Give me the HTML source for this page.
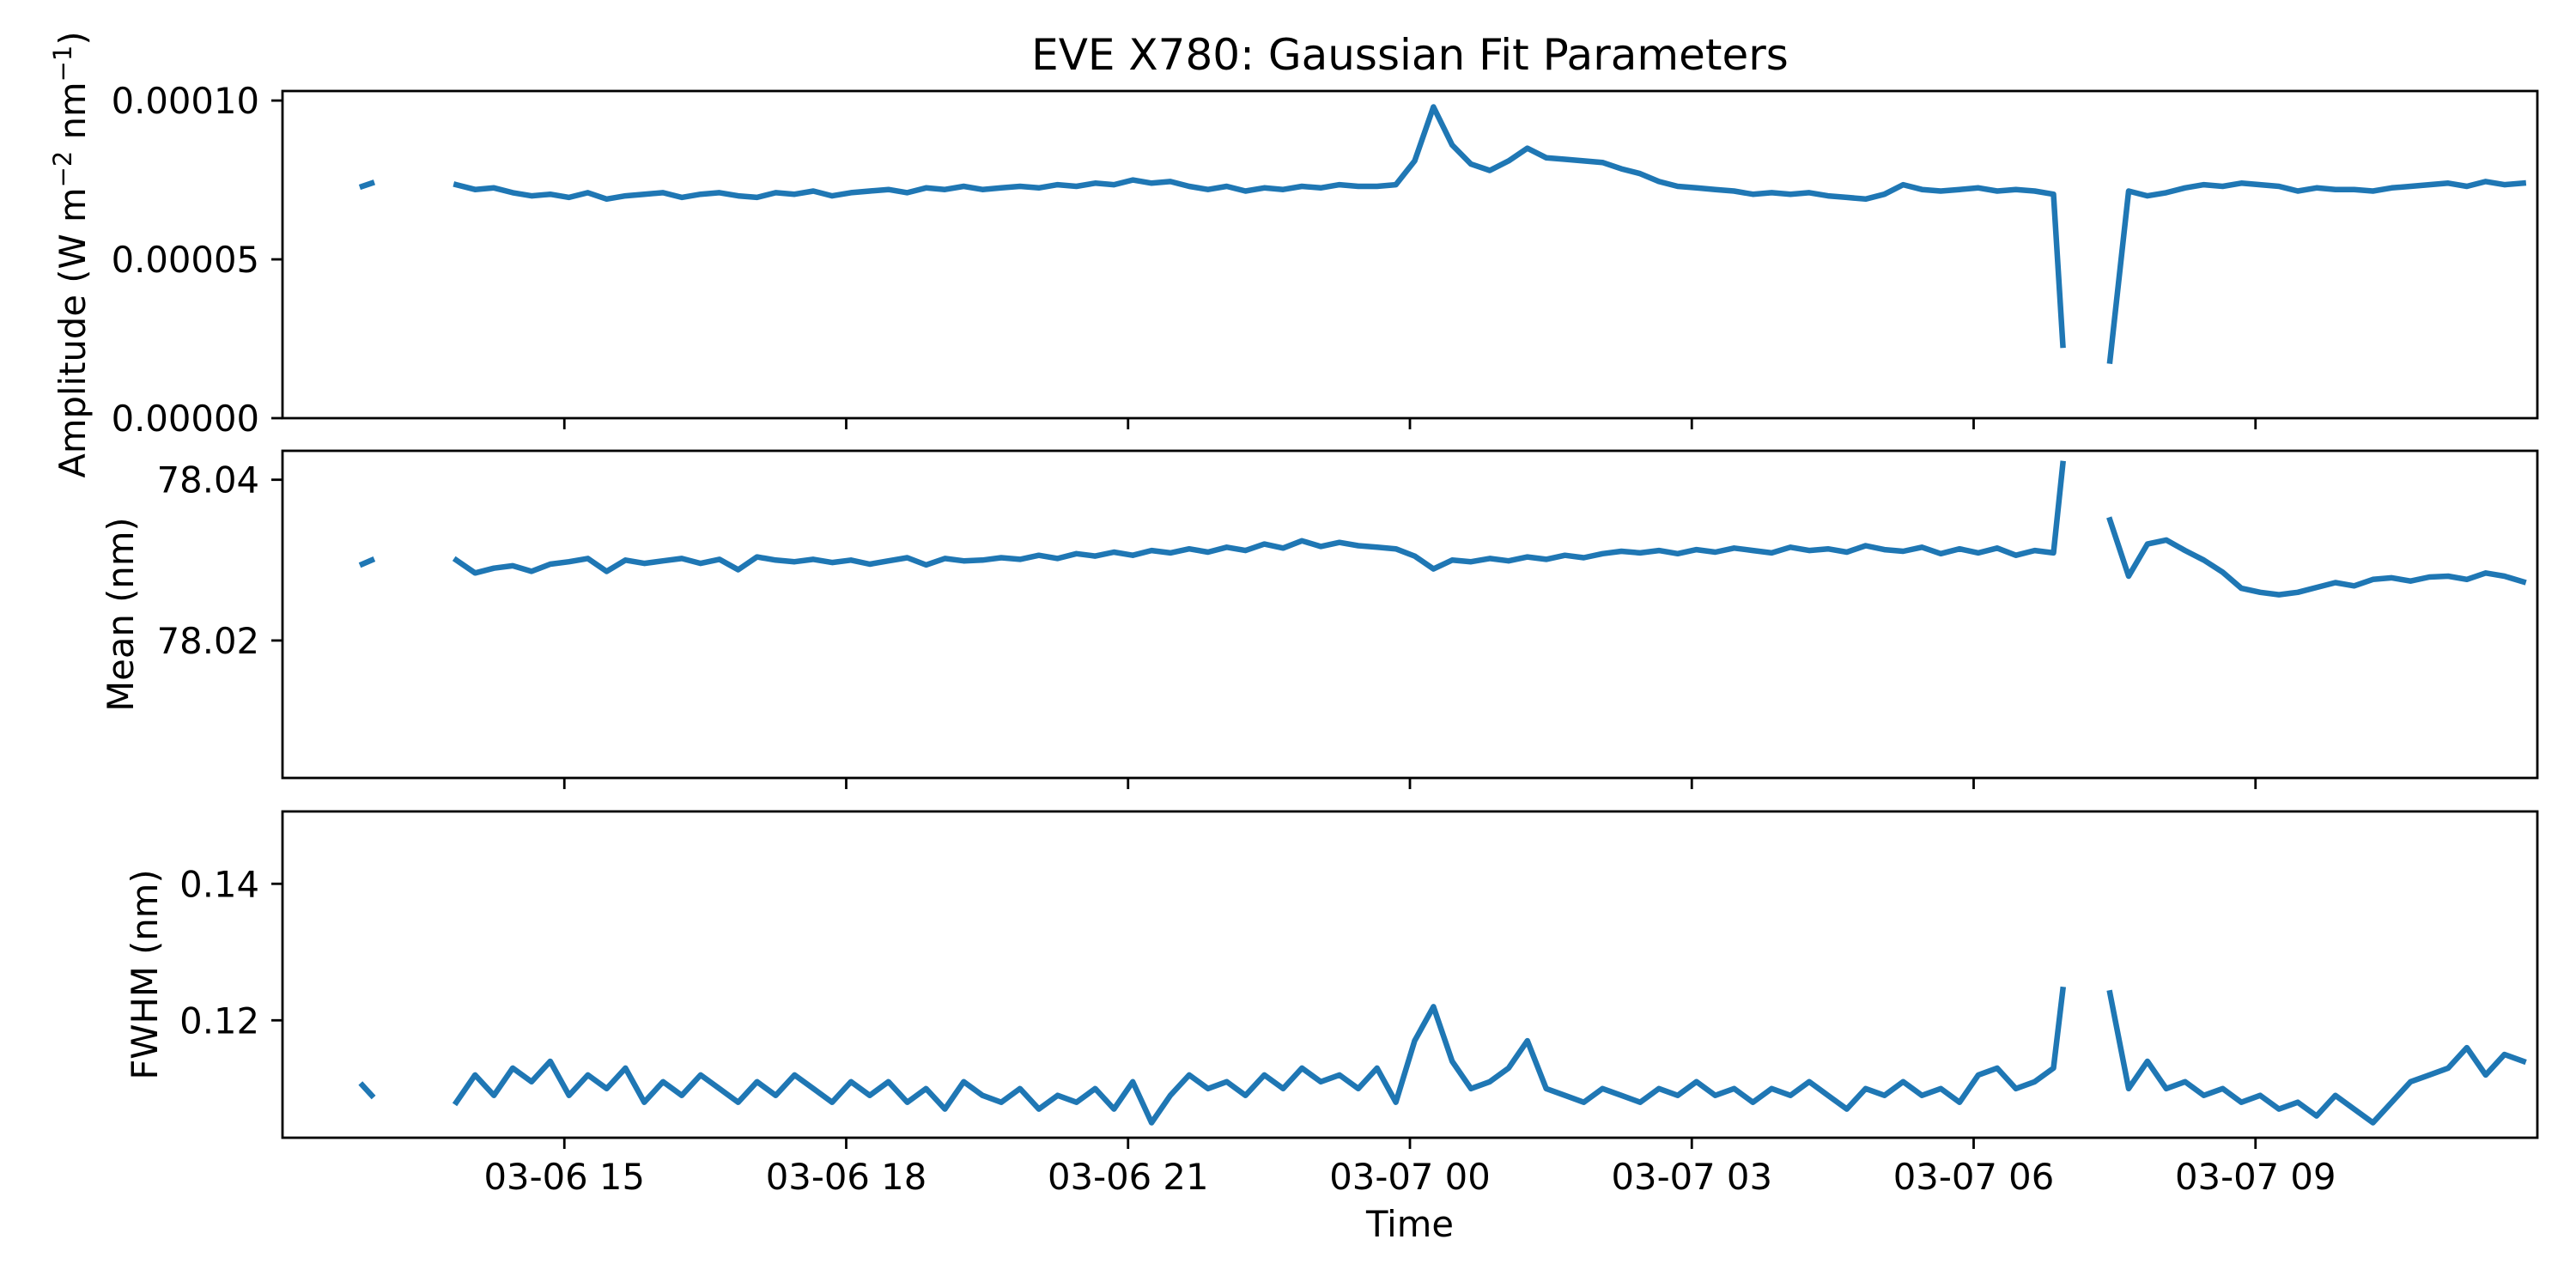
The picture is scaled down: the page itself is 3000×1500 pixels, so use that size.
<!DOCTYPE html>
<html><head><meta charset="utf-8">
<style>
html,body{margin:0;padding:0;background:#fff;}
svg{display:block;font-family:"DejaVu Sans","Liberation Sans",sans-serif;}
</style></head>
<body>
<svg id="fig" width="3000" height="1500" viewBox="0 0 3000 1500" xmlns="http://www.w3.org/2000/svg">
<rect width="3000" height="1500" fill="#fff"/>
<text x="1642" y="81" font-size="50" text-anchor="middle">EVE X780: Gaussian Fit Parameters</text>
<g id="plots"></g>
</svg>
<script>
// x: hours since 03-06 12:00
const xTickHours = [3, 6, 9, 12, 15, 18, 21];
const xTickLabels = ["03-06 15", "03-06 18", "03-06 21", "03-07 00", "03-07 03", "03-07 06", "03-07 09"];
const seg0Times = [0.85, 0.95];
const seg1Start = 1.85, seg1Step = 0.2;
const seg1EndTime = 18.95;
const seg2Start = 19.45, seg2Step = 0.2;

// Amplitude (x1e-5 W m^-2 nm^-1)
const ampSeg0 = [7.3, 7.4];
const ampSeg1 = [7.35,7.2,7.25,7.1,7.0,7.05,6.95,7.1,6.9,7.0,7.05,
 7.1,6.95,7.05,7.1,7.0,6.95,7.1,7.05,7.15,7.0,7.1,
 7.15,7.2,7.1,7.25,7.2,7.3,7.2,7.25,7.3,7.25,7.35,
 7.3,7.4,7.35,7.5,7.4,7.45,7.3,7.2,7.3,7.15,7.25,
 7.2,7.3,7.25,7.35,7.3,7.3,7.35,8.1,9.8,8.6,8.0,
 7.8,8.1,8.5,8.2,8.15,8.1,8.05,7.85,7.7,7.45,7.3,
 7.25,7.2,7.15,7.05,7.1,7.05,7.1,7.0,6.95,6.9,7.05,
 7.35,7.2,7.15,7.2,7.25,7.15,7.2,7.15,7.05];
const ampSeg1End = 2.3;
const ampSeg2 = [1.8,7.15,7.0,7.1,7.25,7.35,7.3,7.4,7.35,7.3,7.15,7.25,7.2,7.2,7.15,7.25,7.3,7.35,7.4,7.3,7.45,7.35,7.4];

// Mean (offset from 78.000 nm, x1e-3)
const meanSeg0 = [29.5, 30.0];
const meanSeg1 = [30.0,28.4,29.0,29.3,28.6,29.5,29.8,30.2,28.6,30.0,29.6,
 29.9,30.2,29.6,30.1,28.8,30.4,30.0,29.8,30.1,29.7,30.0,
 29.5,29.9,30.3,29.4,30.2,29.9,30.0,30.3,30.1,30.6,30.2,
 30.8,30.5,31.0,30.6,31.2,30.9,31.4,31.0,31.6,31.2,32.0,
 31.5,32.4,31.7,32.2,31.8,31.6,31.4,30.5,28.9,30.0,29.8,
 30.2,29.9,30.4,30.1,30.6,30.3,30.8,31.1,30.9,31.2,30.8,
 31.3,31.0,31.5,31.2,30.9,31.6,31.2,31.4,31.0,31.8,31.3,
 31.1,31.6,30.8,31.4,30.9,31.5,30.6,31.2,30.9];
const meanSeg1End = 42.0;
const meanSeg2 = [35.0,28.0,32.0,32.5,31.2,30.0,28.5,26.5,26.0,25.7,26.0,26.6,27.2,26.8,27.6,27.8,27.4,27.9,28.0,27.6,28.4,28.0,27.3];

// FWHM (x1e-3 nm)
const fwhmSeg0 = [110.5, 109.0];
const fwhmSeg1 = [108,112,109,113,111,114,109,112,110,113,108,
 111,109,112,110,108,111,109,112,110,108,111,
 109,111,108,110,107,111,109,108,110,107,109,
 108,110,107,111,105,109,112,110,111,109,112,
 110,113,111,112,110,113,108,117,122,114,110,
 111,113,117,110,109,108,110,109,108,110,109,
 111,109,110,108,110,109,111,109,107,110,109,
 111,109,110,108,112,113,110,111,113];
const fwhmSeg1End = 124.5;
const fwhmSeg2 = [124,110,114,110,111,109,110,108,109,107,108,106,109,107,105,108,111,112,113,116,112,115,114];

const ampTicks = [0, 5, 10];
const ampTickLabels = ["0.00000", "0.00005", "0.00010"];
const meanTicks = [20, 40];
const meanTickLabels = ["78.02", "78.04"];
const fwhmTicks = [120, 140];
const fwhmTickLabels = ["0.12", "0.14"];

const NS = "http://www.w3.org/2000/svg";
const X0 = 329, X1 = 2955;
const FS = 41.7;
const xScale = h => X0 + (h / 24) * (X1 - X0);
const g = document.getElementById('plots');

function mk(tag, attrs) {
  const e = document.createElementNS(NS, tag);
  for (const k in attrs) e.setAttribute(k, attrs[k]);
  return e;
}

const panels = [
  {name: 'amplitude', top: 106, bottom: 487, vmin: 0, vmax: 10.3, s0: ampSeg0, s1: ampSeg1, e1: ampSeg1End, s2: ampSeg2,
   ticks: ampTicks, tl: ampTickLabels, label: 'amp', lx: 99, xlabels: false},
  {name: 'mean', top: 525, bottom: 906, vmin: 2.9, vmax: 43.6, s0: meanSeg0, s1: meanSeg1, e1: meanSeg1End, s2: meanSeg2,
   ticks: meanTicks, tl: meanTickLabels, label: 'Mean (nm)', lx: 155, xlabels: false},
  {name: 'fwhm', top: 945, bottom: 1325, vmin: 102.8, vmax: 150.6, s0: fwhmSeg0, s1: fwhmSeg1, e1: fwhmSeg1End, s2: fwhmSeg2,
   ticks: fwhmTicks, tl: fwhmTickLabels, label: 'FWHM (nm)', lx: 183, xlabels: true}
];

panels.forEach(p => {
  const ys = v => p.bottom - (v - p.vmin) / (p.vmax - p.vmin) * (p.bottom - p.top);
  const pg = mk('g', {});
  
  
  g.appendChild(pg);

  const segs = [];
  segs.push(seg0Times.map((t, i) => [t, p.s0[i]]));
  const s1 = p.s1.map((v, i) => [seg1Start + i * seg1Step, v]);
  s1.push([seg1EndTime, p.e1]);
  segs.push(s1);
  segs.push(p.s2.map((v, i) => [seg2Start + i * seg2Step, v]));
  segs.forEach((s, si) => {
    const d = s.map((pt, i) => (i ? 'L' : 'M') + xScale(pt[0]).toFixed(1) + ' ' + ys(pt[1]).toFixed(1)).join(' ');
    const path = mk('path', {d: d, fill: 'none', stroke: '#1f77b4', 'stroke-width': 6.5, 'stroke-linejoin': 'round', 'stroke-linecap': 'square'});
    
    
    pg.appendChild(path);
  });

  const frame = mk('rect', {x: X0, y: p.top, width: X1 - X0, height: p.bottom - p.top, fill: 'none', stroke: '#000', 'stroke-width': 2.8});
  
  
  pg.appendChild(frame);

  p.ticks.forEach((v, i) => {
    const y = ys(v);
    const tk = mk('line', {x1: X0 - 13, x2: X0, y1: y, y2: y, stroke: '#000', 'stroke-width': 2.8});
    
    
    pg.appendChild(tk);
    const tx = mk('text', {x: X0 - 27, y: y + 15, 'font-size': FS, 'text-anchor': 'end'});
    tx.textContent = p.tl[i];
    
    
    pg.appendChild(tx);
  });

  xTickHours.forEach((h, i) => {
    const x = xScale(h);
    const tk = mk('line', {x1: x, x2: x, y1: p.bottom, y2: p.bottom + 13, stroke: '#000', 'stroke-width': 2.8});
    
    
    pg.appendChild(tk);
    if (p.xlabels) {
      const tx = mk('text', {x: x, y: 1385, 'font-size': FS, 'text-anchor': 'middle'});
      tx.textContent = xTickLabels[i];
      
      
      pg.appendChild(tx);
    }
  });

  const cy = (p.top + p.bottom) / 2;
  const yl = mk('text', {x: p.lx, y: cy, 'font-size': FS, 'text-anchor': 'middle', transform: 'rotate(-90 ' + p.lx + ' ' + cy + ')'});
  if (p.label === 'amp') {
    yl.innerHTML = 'Amplitude (W m<tspan dy="-16" font-size="29">\u22122</tspan><tspan dy="16"> nm</tspan><tspan dy="-16" font-size="29">\u22121</tspan><tspan dy="16">)</tspan>';
  } else {
    yl.textContent = p.label;
  }
  
  
  pg.appendChild(yl);
});

const xt = mk('text', {x: 1642, y: 1440, 'font-size': FS, 'text-anchor': 'middle'});
xt.textContent = 'Time';


g.appendChild(xt);
</script>
</body></html>
